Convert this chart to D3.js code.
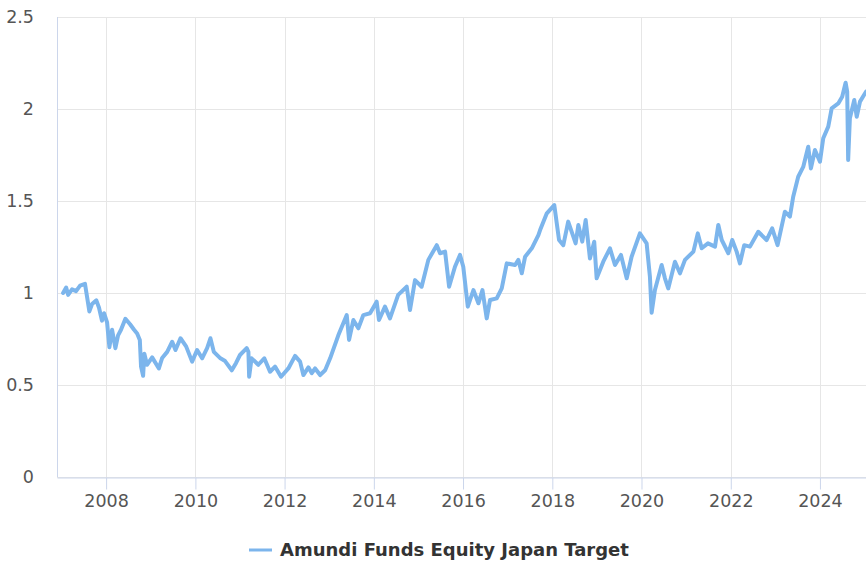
<!DOCTYPE html>
<html>
<head>
<meta charset="utf-8">
<script src="https://cdn.jsdelivr.net/npm/d3@7"></script>
<style>
    body { margin: 0; background: #ffffff; }
    svg text { font-family: "DejaVu Sans", sans-serif; }
</style>
</head>
<body>
<div id="chart"></div>
<script>
// Series name and values.
let seriesName = "Amundi Funds Equity Japan Target";

let dates = [
    "2007-01-14", "2007-02-08", "2007-02-24", "2007-03-28", "2007-04-30", "2007-06-02", "2007-07-12",
    "2007-08-17", "2007-09-08", "2007-10-13", "2007-11-04", "2007-11-28", "2007-12-15", "2008-01-09",
    "2008-01-28", "2008-02-19", "2008-03-17", "2008-04-08", "2008-05-02", "2008-06-07", "2008-07-15",
    "2008-08-17", "2008-09-11", "2008-10-03", "2008-10-13", "2008-10-30", "2008-11-09", "2008-12-01",
    "2009-01-12", "2009-03-08", "2009-04-04", "2009-05-15", "2009-06-25", "2009-07-22", "2009-09-01",
    "2009-10-17", "2009-12-05", "2010-01-15", "2010-02-25", "2010-04-07", "2010-05-04", "2010-06-01",
    "2010-07-25", "2010-09-01", "2010-10-26", "2010-11-30", "2011-01-01", "2011-02-25", "2011-03-11",
    "2011-03-17", "2011-04-06", "2011-05-31", "2011-07-19", "2011-09-04", "2011-10-15", "2011-12-03",
    "2012-02-01", "2012-03-27", "2012-05-07", "2012-06-03", "2012-07-14", "2012-08-11", "2012-09-07",
    "2012-10-18", "2012-11-28", "2013-01-08", "2013-03-16", "2013-05-24", "2013-06-12", "2013-07-17",
    "2013-08-27", "2013-10-07", "2013-12-01", "2014-01-24", "2014-02-12", "2014-04-02", "2014-05-13",
    "2014-07-19", "2014-09-27", "2014-10-24", "2014-12-04", "2015-01-27", "2015-03-23", "2015-05-31",
    "2015-06-27", "2015-08-07", "2015-09-09", "2015-10-27", "2015-12-07", "2016-01-03", "2016-02-09",
    "2016-03-26", "2016-05-06", "2016-06-08", "2016-07-13", "2016-08-09", "2016-10-03", "2016-11-13",
    "2016-12-24", "2017-03-02", "2017-03-29", "2017-04-26", "2017-05-23", "2017-07-17", "2017-09-09",
    "2017-09-23", "2017-11-17", "2018-01-17", "2018-02-25", "2018-04-01", "2018-05-11", "2018-07-11",
    "2018-08-02", "2018-09-03", "2018-10-01", "2018-11-05", "2018-12-10", "2018-12-30", "2019-02-22",
    "2019-04-18", "2019-05-29", "2019-07-17", "2019-09-02", "2019-10-12", "2019-12-19", "2020-02-12",
    "2020-03-10", "2020-03-24", "2020-04-20", "2020-06-14", "2020-07-11", "2020-08-07", "2020-10-01",
    "2020-11-11", "2020-12-22", "2021-03-01", "2021-04-06", "2021-05-08", "2021-06-28", "2021-08-25",
    "2021-09-21", "2021-10-19", "2021-12-12", "2022-01-13", "2022-02-18", "2022-03-17", "2022-04-21",
    "2022-06-07", "2022-08-14", "2022-10-21", "2022-12-06", "2023-01-19", "2023-03-20", "2023-04-30",
    "2023-05-27", "2023-07-07", "2023-08-17", "2023-09-27", "2023-10-19", "2023-11-21", "2024-01-01",
    "2024-01-28", "2024-03-09", "2024-04-06", "2024-05-30", "2024-07-01", "2024-07-29", "2024-08-11",
    "2024-08-19", "2024-09-02", "2024-10-08", "2024-10-28", "2024-11-24", "2025-01-12"
];

let values = [
    1.00, 1.03, 0.99, 1.02, 1.01, 1.04, 1.05,
    0.90, 0.94, 0.96, 0.92, 0.85, 0.89, 0.84,
    0.705, 0.80, 0.70, 0.77, 0.80, 0.86, 0.83,
    0.80, 0.78, 0.745, 0.60, 0.55, 0.67, 0.61,
    0.65, 0.59, 0.647, 0.68, 0.735, 0.69, 0.754,
    0.71, 0.627, 0.69, 0.645, 0.70, 0.754, 0.68,
    0.645, 0.63, 0.58, 0.62, 0.663, 0.70, 0.68,
    0.545, 0.645, 0.61, 0.645, 0.572, 0.60, 0.545,
    0.59, 0.658, 0.627, 0.554, 0.596, 0.564, 0.59,
    0.554, 0.58, 0.645, 0.77, 0.88, 0.745, 0.853,
    0.808, 0.88, 0.89, 0.953, 0.853, 0.926, 0.862,
    0.99, 1.034, 0.908, 1.07, 1.034, 1.18, 1.26,
    1.216, 1.225, 1.034, 1.143, 1.207, 1.143, 0.926,
    1.016, 0.944, 1.016, 0.862, 0.962, 0.971, 1.025,
    1.161, 1.152, 1.18, 1.107, 1.197, 1.243, 1.315,
    1.342, 1.433, 1.478, 1.288, 1.26, 1.388, 1.27,
    1.37, 1.279, 1.397, 1.188, 1.279, 1.08, 1.17,
    1.243, 1.152, 1.207, 1.08, 1.197, 1.324, 1.27,
    1.089, 0.893, 1.016, 1.152, 1.08, 1.025, 1.17,
    1.107, 1.18, 1.225, 1.324, 1.243, 1.27, 1.252,
    1.37, 1.288, 1.216, 1.288, 1.225, 1.161, 1.26,
    1.252, 1.333, 1.288, 1.351, 1.26, 1.442, 1.415,
    1.523, 1.632, 1.685, 1.795, 1.677, 1.777, 1.714,
    1.841, 1.904, 2.004, 2.03, 2.067, 2.143, 2.094,
    1.723, 1.95, 2.049, 1.958, 2.04, 2.094
];

let yTicks = [0, 0.5, 1, 1.5, 2, 2.5];
let xTickYears = [2008, 2010, 2012, 2014, 2016, 2018, 2020, 2022, 2024];

// Dimensions.
let width = 866;
let height = 561;
let margin = { top: 17, right: 0, bottom: 84, left: 57 };

let parseDate = d3.timeParse("%Y-%m-%d");
let data = dates.map((d, i) => ({ date: parseDate(d), value: values[i] }));

let svg = d3.select("#chart")
    .append("svg")
    .attr("width", width)
    .attr("height", height);

// Scales.
let x = d3.scaleTime()
    .domain([parseDate("2006-11-25"), parseDate("2025-01-12")])
    .range([margin.left, width - margin.right]);

let y = d3.scaleLinear()
    .domain([0, 2.5])
    .range([height - margin.bottom, margin.top]);

let xTicks = xTickYears.map(yr => new Date(yr, 0, 1));

// Horizontal grid lines.
svg.append("g")
    .selectAll("line")
    .data(yTicks)
    .enter()
    .append("line")
    .attr("x1", margin.left)
    .attr("x2", width - margin.right)
    .attr("y1", d => y(d) + 0.5)
    .attr("y2", d => y(d) + 0.5)
    .attr("stroke", "#e6e6e6")
    .attr("stroke-width", 1);

// Vertical grid lines.
svg.append("g")
    .selectAll("line")
    .data(xTicks)
    .enter()
    .append("line")
    .attr("x1", d => Math.round(x(d)) + 0.5)
    .attr("x2", d => Math.round(x(d)) + 0.5)
    .attr("y1", margin.top)
    .attr("y2", height - margin.bottom)
    .attr("stroke", "#e6e6e6")
    .attr("stroke-width", 1);

// X axis: line, ticks and year labels.
let xAxis = svg.append("g")
    .attr("transform", "translate(0," + (height - margin.bottom + 0.5) + ")")
    .call(d3.axisBottom(x)
        .tickValues(xTicks)
        .tickFormat(d3.timeFormat("%Y"))
        .tickSize(12)
        .tickSizeOuter(0)
        .tickPadding(5));

xAxis.select(".domain").attr("stroke", "#ccd6eb");
xAxis.selectAll(".tick line").attr("stroke", "#ccd6eb");
xAxis.selectAll(".tick text")
    .attr("fill", "#555555")
    .style("font-size", "17.5px");

// Y axis line and labels.
svg.append("line")
    .attr("x1", margin.left + 0.5)
    .attr("x2", margin.left + 0.5)
    .attr("y1", margin.top)
    .attr("y2", height - margin.bottom)
    .attr("stroke", "#ccd6eb")
    .attr("stroke-width", 1);

svg.append("g")
    .selectAll("text")
    .data(yTicks)
    .enter()
    .append("text")
    .attr("x", 34)
    .attr("y", d => y(d))
    .attr("dy", "0.35em")
    .attr("text-anchor", "end")
    .attr("fill", "#555555")
    .style("font-size", "17.5px")
    .text(d => d3.format("~g")(d));

// The price line.
let line = d3.line()
    .x(d => x(d.date))
    .y(d => y(d.value))
    .curve(d3.curveLinear);

svg.append("path")
    .datum(data)
    .attr("fill", "none")
    .attr("stroke", "#7cb5ec")
    .attr("stroke-width", 4)
    .attr("stroke-linejoin", "round")
    .attr("stroke-linecap", "round")
    .attr("d", line);

// Legend.
let legend = svg.append("g");

legend.append("line")
    .attr("x1", 249)
    .attr("x2", 272)
    .attr("y1", 550)
    .attr("y2", 550)
    .attr("stroke", "#7cb5ec")
    .attr("stroke-width", 3);

legend.append("text")
    .attr("x", 280)
    .attr("y", 556)
    .attr("fill", "#333333")
    .style("font-size", "18px")
    .style("font-weight", "bold")
    .text(seriesName);
</script>
</body>
</html>
